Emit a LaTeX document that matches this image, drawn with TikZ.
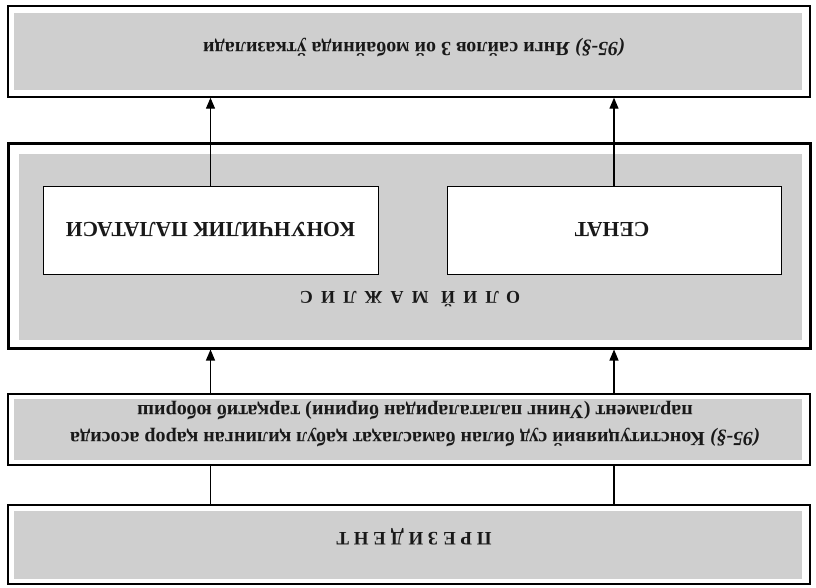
\documentclass[tikz,border=0pt]{standalone}
\usepackage{fontspec}
\setmainfont{Liberation Serif}
\usetikzlibrary{arrows.meta}
\begin{document}
\begin{tikzpicture}[x=1pt,y=-1pt,
  frame/.style={draw=black, line width=1.4pt, fill=white, inner sep=0pt, anchor=center},
  bigframe/.style={draw=black, line width=3pt, fill=white, inner sep=0pt, anchor=center},
  whitebox/.style={draw=black, line width=1pt, fill=white, inner sep=0pt, anchor=center,
    rotate=180, text=black!90, font=\fontsize{21.5}{24}\selectfont\bfseries},
  shade/.style={fill=black!19},
  upside/.style={rotate=180, inner sep=0pt, text=black!90},
  arr/.style={line width=1.2pt, -{Triangle[length=11pt,width=9pt]}},
  plain/.style={line width=1.2pt}
]
\useasboundingbox (0,0) rectangle (816,587);
% boxes
\node[frame, minimum width=802pt, minimum height=91pt] (top) at (409,51.5) {};
\node[bigframe, minimum width=802pt, minimum height=205pt] (big) at (409,245.5) {};
\node[frame, minimum width=802pt, minimum height=71pt] (txt) at (409,429.5) {};
\node[frame, minimum width=802pt, minimum height=79pt] (bot) at (409,544.5) {};
% grey insets
\fill[shade] ([shift={(7,8)}]top.north west) rectangle ([shift={(-9,-8)}]top.south east);
\fill[shade] ([shift={(12,12)}]big.north west) rectangle ([shift={(-10,-10)}]big.south east);
\fill[shade] ([shift={(7,6)}]txt.north west) rectangle ([shift={(-9,-6)}]txt.south east);
\fill[shade] ([shift={(7,7)}]bot.north west) rectangle ([shift={(-9,-6)}]bot.south east);
% inner boxes (whole box printed upside down; its south anchor is at the top)
\node[whitebox, minimum width=335pt, minimum height=88pt] (kp) at (210.5,230) {КОНУНЧИЛИК ПАЛАТАСИ};
\node[whitebox, minimum width=334pt, minimum height=88pt] (sn) at (614,230) {\hspace*{4pt}СЕНАТ};
% texts (printed upside down)
\node[upside, font=\fontsize{20}{22}\selectfont\bfseries] (ttop) at (414,47)
  {\textit{(95-§)} Янги сайлов 3 ой мобайнида ўтказилади};
\node[upside, font=\fontsize{18}{20}\selectfont\bfseries\addfontfeature{LetterSpace=45}] (tom) at (410,299) {ОЛИЙ МАЖЛИС};
\node[upside, align=center, font=\fontsize{20}{27}\selectfont\bfseries] (ttxt) at (415,424)
  {\textit{(95-§)} Конституциявий суд билан бамаслаҳат қабул қилинган қарор асосида\\
   парламент (Унинг палаталаридан бирини) тарқатиб юбориш};
\node[upside, font=\fontsize{19}{21}\selectfont\bfseries\addfontfeature{LetterSpace=25}] (tbot) at (414,537) {ПРЕЗИДЕНТ};
% connectors
\draw[arr] (kp.south) -- (kp.south |- top.south);
\draw[arr] (sn.south) -- (sn.south |- top.south);
\draw[arr] (txt.north -| kp) -- (big.south -| kp);
\draw[arr] (txt.north -| sn) -- (big.south -| sn);
\draw[plain] (bot.north -| kp) -- (txt.south -| kp);
\draw[plain] (bot.north -| sn) -- (txt.south -| sn);
\end{tikzpicture}
\end{document}
